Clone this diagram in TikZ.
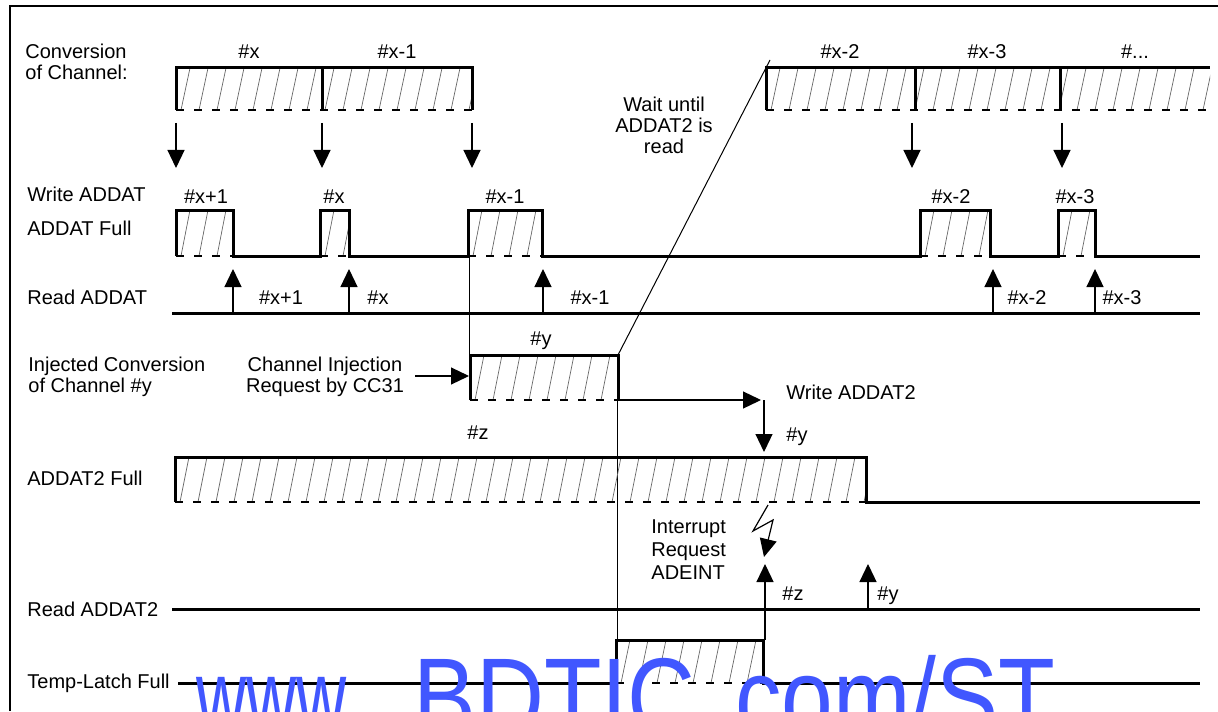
\documentclass[tikz,border=0pt]{standalone}
\usepackage{fontspec}
\setmainfont{Liberation Sans}
\usetikzlibrary{arrows.meta}
\definecolor{wm}{RGB}{65,87,255}
\tikzset{
  thickl/.style={line width=1.5pt},
  thinl/.style={line width=0.5pt},
  hatchline/.style={line width=0.35pt, black!60},
  dashbot/.style={line width=1.2pt, dash pattern=on 4pt off 5pt},
  arr/.style={line width=0.6pt, -{Triangle[length=9pt,width=8.5pt]}},
  lbl/.style={font=\fontsize{10}{10.5}\selectfont, inner sep=0pt},
  wmk/.style={font=\fontsize{56}{56}\selectfont, text=wm, inner sep=0pt, anchor=base west},
}
\newcommand{\hatchfill}[4]{%
  \begin{scope}
    \clip (#1,#2) rectangle (#3,#4);
    \foreach \k in {0,...,40}{\draw[hatchline] ({#1+5+\k*18},#4) -- ++(9,{#2-#4});}
  \end{scope}
  \draw[dashbot] (#1,#4) -- (#3,#4);
}
\begin{document}
\begin{tikzpicture}[x=0.5pt,y=-0.5pt]
\useasboundingbox (0,0) rectangle (1218,711);
\begin{scope}
\clip (0,0) rectangle (1218,711);
% frame
\draw[line width=1.1pt] (10,711) -- (10,6) -- (1218,6);

% ---- Conversion of Channel
\node[lbl, anchor=west, align=left] (lconv) at (25,62) {Conversion\\of Channel:};
\hatchfill{176}{68}{472}{110}
\draw[thickl] (176,110) -- (176,68) -- (472,68) -- (472,110);
\draw[thickl] (322,68) -- (322,110);
\hatchfill{766}{68}{1210}{110}
\draw[thickl] (766,110) -- (766,68) -- (1210,68);
\draw[thickl] (915,68) -- (915,110);
\draw[thickl] (1060,68) -- (1060,110);
\node[lbl] (cx) at (249,52) {\#x};
\node[lbl] (cx1) at (397,52) {\#x-1};
\node[lbl] (cx2) at (840,52) {\#x-2};
\node[lbl] (cx3) at (987,52) {\#x-3};
\node[lbl] (cxd) at (1135,52) {\#...};
\foreach \xx in {176,322,472,912,1062}{\draw[arr] (\xx,123) -- (\xx,168);}

% ---- ADDAT Full
\node[lbl, anchor=west] (lwr) at (27,194) {Write ADDAT};
\node[lbl, anchor=west] (lfull) at (27,228) {ADDAT Full};
\hatchfill{176}{210}{233}{256}
\hatchfill{320}{210}{349}{256}
\hatchfill{468}{210}{542}{256}
\hatchfill{920}{210}{990}{256}
\hatchfill{1058}{210}{1095}{256}
\draw[thickl] (176,256) -- (176,210) -- (233,210) -- (233,256) -- (320,256) -- (320,210) -- (349,210) -- (349,256)
  -- (468,256) -- (468,210) -- (542,210) -- (542,256) -- (920,256) -- (920,210) -- (990,210) -- (990,256)
  -- (1058,256) -- (1058,210) -- (1095,210) -- (1095,256) -- (1200,256);
\node[lbl] (f1) at (206,197) {\#x+1};
\node[lbl] (f2) at (334,197) {\#x};
\node[lbl] (f3) at (505,197) {\#x-1};
\node[lbl] (f4) at (951,197) {\#x-2};
\node[lbl] (f5) at (1075,197) {\#x-3};

% ---- Read ADDAT
\node[lbl, anchor=west] (lrd) at (27,297) {Read ADDAT};
\draw[thickl] (172,313) -- (1200,313);
\foreach \xx in {233,349,543,993,1095}{\draw[arr] (\xx,313) -- (\xx,269);}
\node[lbl] (r1) at (281,298) {\#x+1};
\node[lbl] (r2) at (378,298) {\#x};
\node[lbl] (r3) at (590,298) {\#x-1};
\node[lbl] (r4) at (1027,298) {\#x-2};
\node[lbl] (r5) at (1122,298) {\#x-3};

% ---- Injected conversion
\node[lbl, anchor=west, align=left] (linj) at (28,377) {Injected Conversion\\of Channel \#y};
\node[lbl, align=center] (lreq) at (325,377) {Channel Injection\\Request by CC31};
\draw[arr] (415,376) -- (469,376);
\hatchfill{470}{355}{618}{400}
\draw[thickl] (470,400) -- (470,355) -- (618,355) -- (618,400);
\node[lbl] (iy) at (541,341) {\#y};
\draw[thinl] (469,256) -- (469,355);
\draw[thinl] (618,355) -- (770,60);
\node[lbl, align=center] (lwait) at (664,125) {Wait until\\ADDAT2 is\\read};
\draw[thinl] (617,400) -- (617,640);
\draw[arr] (618,400) -- (761,400);
\draw[arr] (764,400) -- (764,452);
\node[lbl] (lw2) at (851,392) {Write ADDAT2};
\node[lbl] (w2y) at (797,437) {\#y};
\node[lbl] (lz) at (478,433) {\#z};

% ---- ADDAT2 Full
\node[lbl, anchor=west] (lf2) at (27,478) {ADDAT2 Full};
\hatchfill{175}{457}{866}{502}
\draw[thickl] (175,502) -- (175,457) -- (866,457) -- (866,502) -- (1200,502);

% lightning
\draw[arr] (768,505) -- (753,531) -- (773,520) -- (764,557);
\node[lbl, anchor=west, align=left, font=\fontsize{10}{11.5}\selectfont] (lint) at (651,550) {Interrupt\\Request\\ADEINT};

% ---- Read ADDAT2
\node[lbl, anchor=west] (lr2) at (27,609) {Read ADDAT2};
\draw[thickl] (172,609) -- (1200,609);
\draw[arr] (765,640) -- (765,564);
\draw[arr] (868,609) -- (868,564);
\node[lbl] (rz) at (793,594) {\#z};
\node[lbl] (ry) at (888,596) {\#y};

% ---- Temp-Latch Full
\node[lbl, anchor=west] (ltl) at (27,683) {Temp-Latch Full};
\hatchfill{616}{640}{763}{683}
\draw[thickl] (178,683) -- (616,683) -- (616,640) -- (763,640) -- (763,683) -- (1200,683);

% ---- watermark
\node[wmk, xscale=0.62, transform shape] (wm1) at (196,736) {www.};
\node[wmk, xscale=0.84, transform shape] (wm2) at (413,736) {BDTIC.};
\node[wmk, xscale=0.83, transform shape] (wm3) at (735,736) {com/ST};
\end{scope}
\end{tikzpicture}
\end{document}
